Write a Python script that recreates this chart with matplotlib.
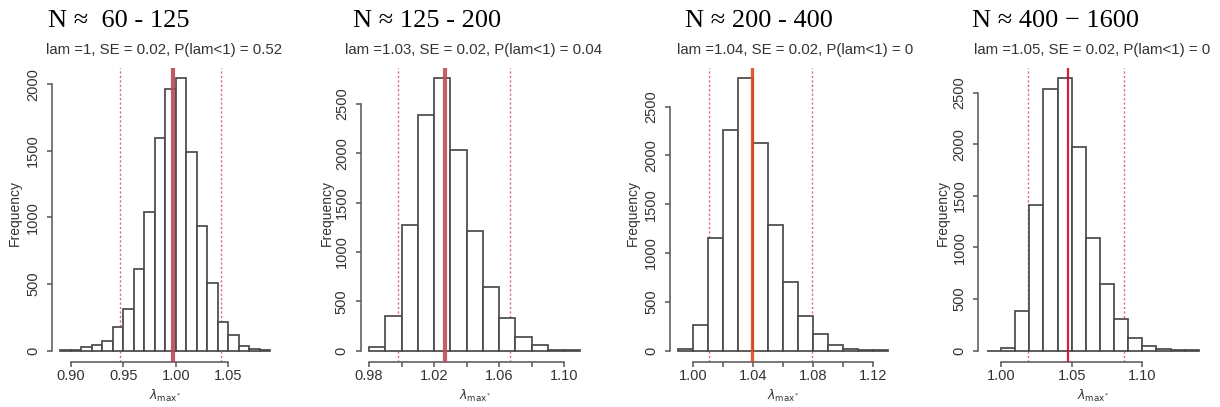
import numpy as np
import matplotlib
matplotlib.use("Agg")
import matplotlib.pyplot as plt

# ---------------- data ----------------
bin_width = 0.01
p1_start = 0.89
p1_counts = [3, 8, 25, 45, 75, 178, 310, 610, 1045, 1600, 1965, 2045, 1495, 935, 505, 213, 118, 38, 15, 5]
p2_start = 0.98
p2_counts = [35, 350, 1270, 2390, 2760, 2030, 1210, 645, 335, 140, 55, 10, 4]
p3_start = 0.99
p3_counts = [20, 265, 1155, 2260, 2790, 2125, 1290, 700, 355, 175, 55, 15, 5, 2]
p4_start = 0.99
p4_counts = [0, 30, 385, 1410, 2535, 2640, 1975, 1090, 650, 310, 125, 45, 15, 6, 3]

lam_est = [0.9975, 1.0268, 1.0393, 1.0472]
ci_low = [0.947, 0.998, 1.0105, 1.0193]
ci_high = [1.0427, 1.0668, 1.079, 1.087]

titles = ["N \u2248  60 - 125", "N \u2248 125 - 200", "N \u2248 200 - 400", "N \u2248 400 \u2212 1600"]
subtitles = ["lam =1, SE = 0.02, P(lam<1) = 0.52",
             "lam =1.03, SE = 0.02, P(lam<1) = 0.04",
             "lam =1.04, SE = 0.02, P(lam<1) = 0",
             "lam =1.05, SE = 0.02, P(lam<1) = 0"]

x_ticks = [[0.90, 0.95, 1.00, 1.05],
           [0.98, 1.00, 1.02, 1.04, 1.06, 1.08, 1.10],
           [1.00, 1.02, 1.04, 1.06, 1.08, 1.10, 1.12],
           [1.00, 1.05, 1.10]]
x_ticklabels = [["0.90", "0.95", "1.00", "1.05"],
                ["0.98", "", "1.02", "", "1.06", "", "1.10"],
                ["1.00", "", "1.04", "", "1.08", "", "1.12"],
                ["1.00", "1.05", "1.10"]]
y_ticks = [[0, 500, 1000, 1500, 2000],
           [0, 500, 1000, 1500, 2000, 2500],
           [0, 500, 1000, 1500, 2000, 2500],
           [0, 500, 1000, 1500, 2000, 2500]]

# ---------------- style ----------------
W, H = 1220, 407
fig = plt.figure(figsize=(W / 100, H / 100), dpi=100)
fig.patch.set_facecolor("white")

sans = ["Liberation Sans", "DejaVu Sans"]
serif = ["Liberation Serif", "DejaVu Serif"]
plt.rcParams["font.family"] = sans
plt.rcParams["mathtext.fontset"] = "dejavusans"

axcol = "#555555"
txtcol = "#333333"

panels = [
    (p1_start, p1_counts),
    (p2_start, p2_counts),
    (p3_start, p3_counts),
    (p4_start, p4_counts),
]
box_left = [51.8, 360.6, 669.9, 978.4]
box_right = [278.8, 588.7, 896.7, 1207.3]
box_top, box_bottom = 67.5, 361.5
title_x = [48, 353, 685, 972]
subtitle_x = [164, 474, 795, 1092]
ylabel_x = [15, 327, 633, 943]
red_cols = ["#bf4656", "#c24a58", "#e2481e", "#d20a1e"]
red_lw = [3.0, 3.0, 2.4, 1.6]

for i, (start, counts) in enumerate(panels):
    counts = np.asarray(counts, dtype=float)
    lefts = start + bin_width * np.arange(len(counts))
    lo, hi = lefts[0], lefts[-1] + bin_width
    M = counts.max()

    l, r = box_left[i], box_right[i]
    ax = fig.add_axes([l / W, 1 - box_bottom / H, (r - l) / W, (box_bottom - box_top) / H])
    ax.set_facecolor("none")
    ax.bar(lefts, counts, width=bin_width, align="edge", facecolor="white",
           edgecolor="#4a4a4a", linewidth=1.25, zorder=2)
    ax.axvline(lam_est[i], color=red_cols[i], lw=red_lw[i], zorder=3, alpha=0.9)
    for v in (ci_low[i], ci_high[i]):
        ax.axvline(v, color="#e06a78", lw=1.0, linestyle=(0, (1.6, 1.6)), zorder=1)

    ax.set_xlim(lo - 0.04 * (hi - lo), hi + 0.04 * (hi - lo))
    ax.set_ylim(-0.04 * M, 1.04 * M)

    for s in ("top", "right"):
        ax.spines[s].set_visible(False)
    for s in ("left", "bottom"):
        ax.spines[s].set_color(axcol)
        ax.spines[s].set_linewidth(1.1)
    ax.spines["left"].set_bounds(y_ticks[i][0], y_ticks[i][-1])
    ax.spines["bottom"].set_bounds(x_ticks[i][0], x_ticks[i][-1])

    ax.set_xticks(x_ticks[i])
    ax.set_xticklabels(x_ticklabels[i])
    ax.set_yticks(y_ticks[i])
    ax.set_yticklabels([str(v) for v in y_ticks[i]], rotation=90, va="center")
    ax.tick_params(axis="both", colors=axcol, labelcolor=txtcol, length=3.5,
                   width=1.1, labelsize=10.5)
    ax.tick_params(axis="x", pad=2)
    ax.tick_params(axis="y", pad=5)

    cx = (l + r) / 2
    fig.text(cx / W, 1 - 400 / H, r"$\lambda_{\mathrm{max}^{*}}$", ha="center",
             va="baseline", fontsize=9, color=txtcol)
    fig.text(ylabel_x[i] / W, 1 - 213 / H, "Frequency", rotation=90, ha="center",
             va="center", fontsize=10, color=txtcol)
    fig.text(subtitle_x[i] / W, 1 - 54 / H, subtitles[i], ha="center", va="baseline",
             fontsize=10.8, color=txtcol)
    fig.text(title_x[i] / W, 1 - 27.3 / H, titles[i], ha="left", va="baseline",
             fontsize=19, family=serif, color="black")

fig.savefig("out.png", dpi=100, facecolor="white")
